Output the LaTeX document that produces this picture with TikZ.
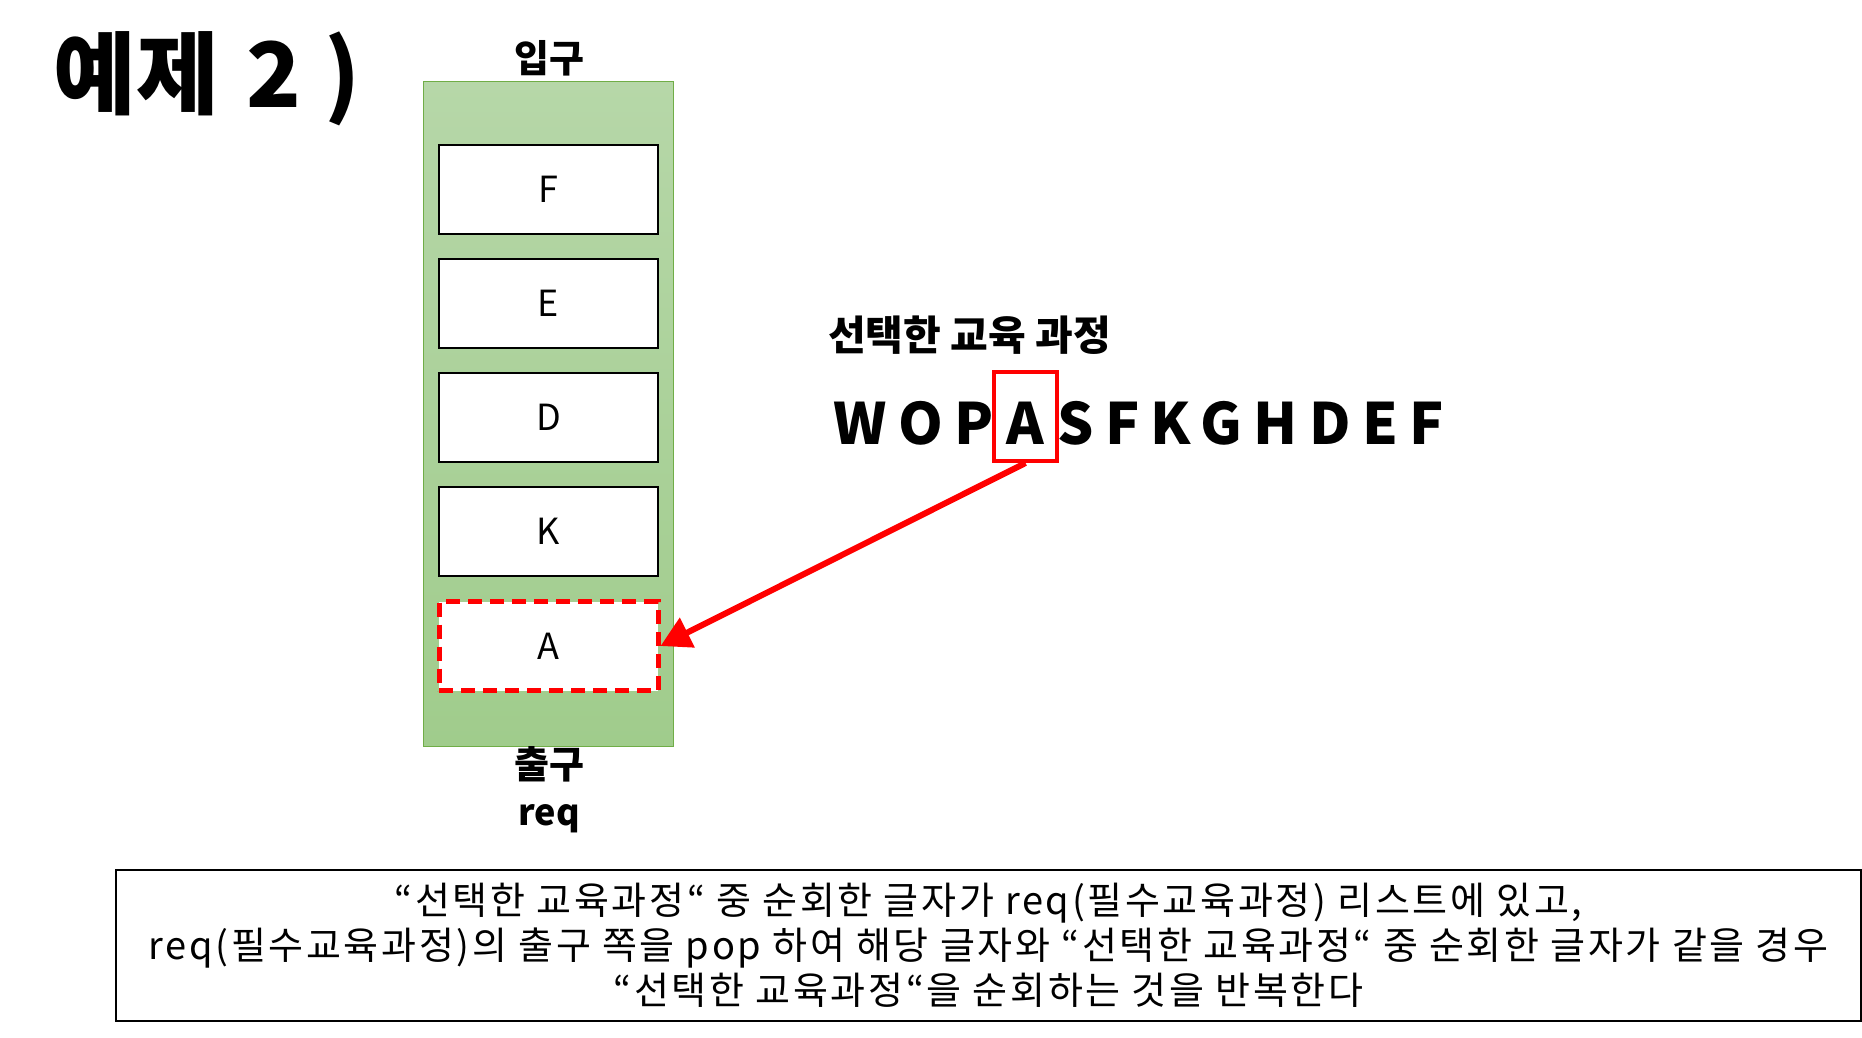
\documentclass[tikz,border=0pt]{standalone}
\usepackage{fontspec}
\setmainfont{Noto Sans CJK KR}
\usetikzlibrary{arrows.meta}
\definecolor{stackline}{HTML}{70AD47}
\definecolor{stacktop}{HTML}{B6D7A8}
\definecolor{stackbot}{HTML}{A0CC8C}
\definecolor{hlred}{HTML}{FF0000}
\begin{document}
\begin{tikzpicture}[x=1pt,y=-1pt,
  cell/.style={draw=black,line width=2pt,fill=white,minimum width=219pt,minimum height=89pt,inner sep=0pt,font=\fontsize{36}{40}\selectfont},
  lbl/.style={font=\bfseries\fontsize{38}{44}\selectfont,inner sep=0pt},
  seq/.style={font=\bfseries\fontsize{57}{66}\selectfont\addfontfeature{LetterSpace=20},inner sep=0pt},
]
\useasboundingbox (0,0) rectangle (1862,1037);
\node[anchor=base west,inner sep=0pt,font=\bfseries\fontsize{90}{100}\selectfont] (title) at (53,107) {예제\hspace{28pt}2\hspace{23pt})};
\node[lbl] (in) at (549,58) {입구};
\node[draw=stackline,line width=1pt,top color=stacktop,bottom color=stackbot,minimum width=250pt,minimum height=665pt,inner sep=0pt] (stack) at (548,413.5) {};
\node[cell] (cF) at (548.5,189.5) {F};
\node[cell] (cE) at (548.5,303.5) {E};
\node[cell] (cD) at (548.5,417.5) {D};
\node[cell] (cK) at (548.5,531.5) {K};
\node[cell,draw=hlred,line width=5pt,dash pattern=on 14pt off 8pt] (cA) at (548.5,646) {A};
\node[lbl] (out) at (549,764) {출구};
\node[lbl,font=\bfseries\fontsize{36}{44}\selectfont] (req) at (549,819) {req};
\node[anchor=west,inner sep=0pt,font=\bfseries\fontsize{41}{48}\selectfont] (sel) at (828,335) {선택한 교육 과정};
\node[draw=hlred,line width=4pt,minimum width=63pt,minimum height=89pt,inner sep=0pt,text height=55pt,text depth=0pt,font=\bfseries\fontsize{57}{66}\selectfont] (asel) at (1025.5,416.5) {A};
\node[seq,anchor=base east] (wop) at ([xshift=2pt]asel.base west) {WOP};
\node[seq,anchor=base west] (rest) at ([xshift=-2pt]asel.base east) {SFKGHDEF};
\draw[hlred,line width=6pt,-{Triangle[length=30pt,width=32pt]}] (asel.south) -- (cA.east);
\node[draw=black,line width=2pt,minimum width=1745pt,minimum height=151pt,inner sep=0pt,align=center,font=\fontsize{38}{45}\selectfont\addfontfeature{LetterSpace=7}] (note) at (988.5,945.5)
 {“선택한 교육과정“ 중 순회한 글자가 req(필수교육과정) 리스트에 있고,\\
  req(필수교육과정)의 출구 쪽을 pop 하여 해당 글자와 “선택한 교육과정“ 중 순회한 글자가 같을 경우\\
  “선택한 교육과정“을 순회하는 것을 반복한다};
\end{tikzpicture}
\end{document}
